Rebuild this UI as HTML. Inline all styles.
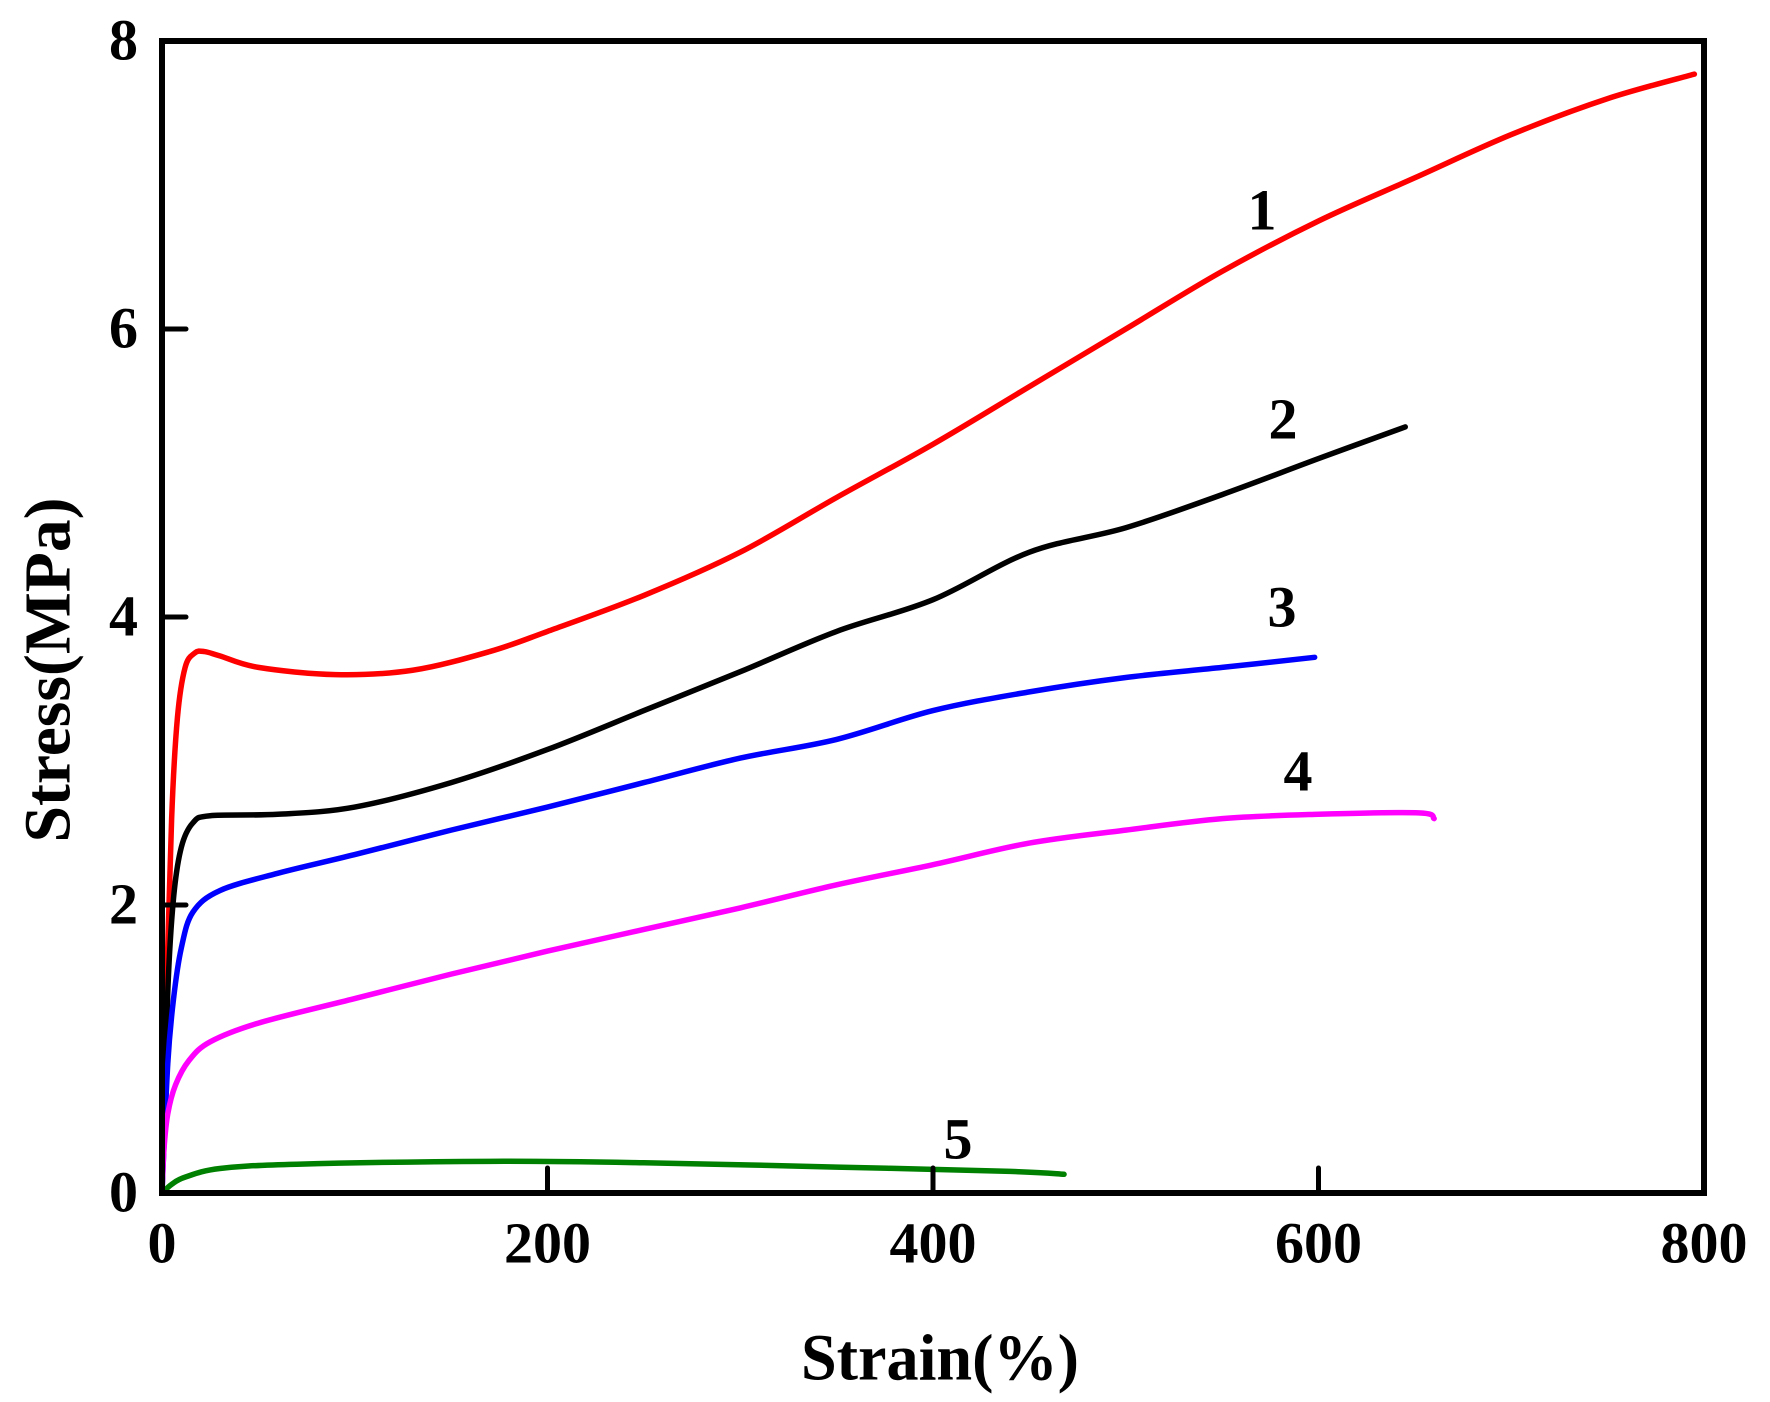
<!DOCTYPE html>
<html><head><meta charset="utf-8"><style>html,body{margin:0;padding:0;background:#fff}svg{display:block}</style></head>
<body>
<svg id="s" width="1770" height="1402" viewBox="0 0 1770 1402" xmlns="http://www.w3.org/2000/svg" font-family="'Liberation Serif', serif" font-weight="bold">
<rect width="1770" height="1402" fill="#fff"/>
<g id="curves" fill="none" stroke-width="5.5" stroke-linejoin="round" stroke-linecap="round"></g>
<rect x="162" y="41" width="1542" height="1152" fill="none" stroke="#000" stroke-width="6"/>
<g stroke="#000" stroke-width="5" stroke-linecap="round">
<line x1="162" y1="905" x2="186" y2="905"/><line x1="162" y1="617" x2="186" y2="617"/><line x1="162" y1="329" x2="186" y2="329"/>
<line x1="547.5" y1="1193" x2="547.5" y2="1168"/><line x1="933" y1="1193" x2="933" y2="1168"/><line x1="1318.5" y1="1193" x2="1318.5" y2="1168"/>
</g>
<g font-size="58" text-anchor="end" dominant-baseline="central">
<text x="138" y="40">8</text><text x="138" y="328">6</text><text x="138" y="616">4</text><text x="138" y="904">2</text><text x="138" y="1192">0</text>
</g>
<g font-size="58" text-anchor="middle" dominant-baseline="central">
<text x="162" y="1243">0</text><text x="547.5" y="1243">200</text><text x="933" y="1243">400</text><text x="1318.5" y="1243">600</text><text x="1704" y="1243">800</text>
<text x="1262" y="210">1</text><text x="1283" y="419">2</text><text x="1282" y="607">3</text><text x="1298" y="771">4</text><text x="958" y="1139">5</text>
</g>
<text x="940" y="1358" font-size="66" text-anchor="middle" dominant-baseline="central" textLength="278" lengthAdjust="spacingAndGlyphs">Strain(%)</text>
<text transform="translate(48,670) rotate(-90)" font-size="66" text-anchor="middle" dominant-baseline="central" textLength="345" lengthAdjust="spacingAndGlyphs">Stress(MPa)</text>
</svg>
<script>
var data={
"#ff0000":[[0,0],[2,1.2],[5,2.6],[8,3.3],[12,3.65],[17,3.75],[22,3.76],[30,3.73],[50,3.65],[90,3.6],[130,3.63],[170,3.76],[200,3.9],[250,4.15],[300,4.45],[350,4.83],[400,5.2],[450,5.6],[500,6.0],[550,6.4],[600,6.75],[650,7.05],[700,7.35],[750,7.6],[795,7.77]],
"#000000":[[0,0],[3,1.4],[6,2.05],[10,2.4],[16,2.57],[25,2.62],[60,2.63],[100,2.68],[150,2.85],[200,3.08],[250,3.35],[300,3.62],[350,3.9],[400,4.12],[450,4.45],[500,4.62],[550,4.85],[600,5.1],[645,5.32]],
"#0000ff":[[0,0],[3,0.9],[6,1.35],[10,1.7],[16,1.95],[30,2.1],[60,2.22],[100,2.35],[150,2.52],[200,2.68],[250,2.85],[300,3.02],[350,3.15],[400,3.35],[450,3.48],[500,3.58],[550,3.65],[598,3.72]],
"#ff00ff":[[0,0],[1,0.3],[3,0.55],[7,0.75],[14,0.92],[25,1.05],[50,1.18],[100,1.35],[150,1.52],[200,1.68],[250,1.83],[300,1.98],[350,2.14],[400,2.28],[450,2.43],[500,2.52],[550,2.6],[600,2.63],[652,2.64],[660,2.6]],
"#008000":[[0,0],[5,0.06],[12,0.11],[30,0.17],[70,0.2],[170,0.22],[250,0.21],[350,0.18],[440,0.15],[468,0.13]]};
var g=document.getElementById('curves');
function X(s){return 162+s*1.9275}function Y(v){return 1193-v*144}
for(var c in data){var p=data[c].map(function(d){return [X(d[0]),Y(d[1])]});
var d="M"+p[0][0]+" "+p[0][1];
for(var i=0;i<p.length-1;i++){var p0=p[i>0?i-1:i],p1=p[i],p2=p[i+1],p3=p[i+2<p.length?i+2:i+1];
d+=" C"+(p1[0]+(p2[0]-p0[0])/6)+" "+(p1[1]+(p2[1]-p0[1])/6)+" "+(p2[0]-(p3[0]-p1[0])/6)+" "+(p2[1]-(p3[1]-p1[1])/6)+" "+p2[0]+" "+p2[1];}
var e=document.createElementNS("http://www.w3.org/2000/svg","path");e.setAttribute("d",d);e.setAttribute("stroke",c);g.appendChild(e);}
</script>
</body></html>
